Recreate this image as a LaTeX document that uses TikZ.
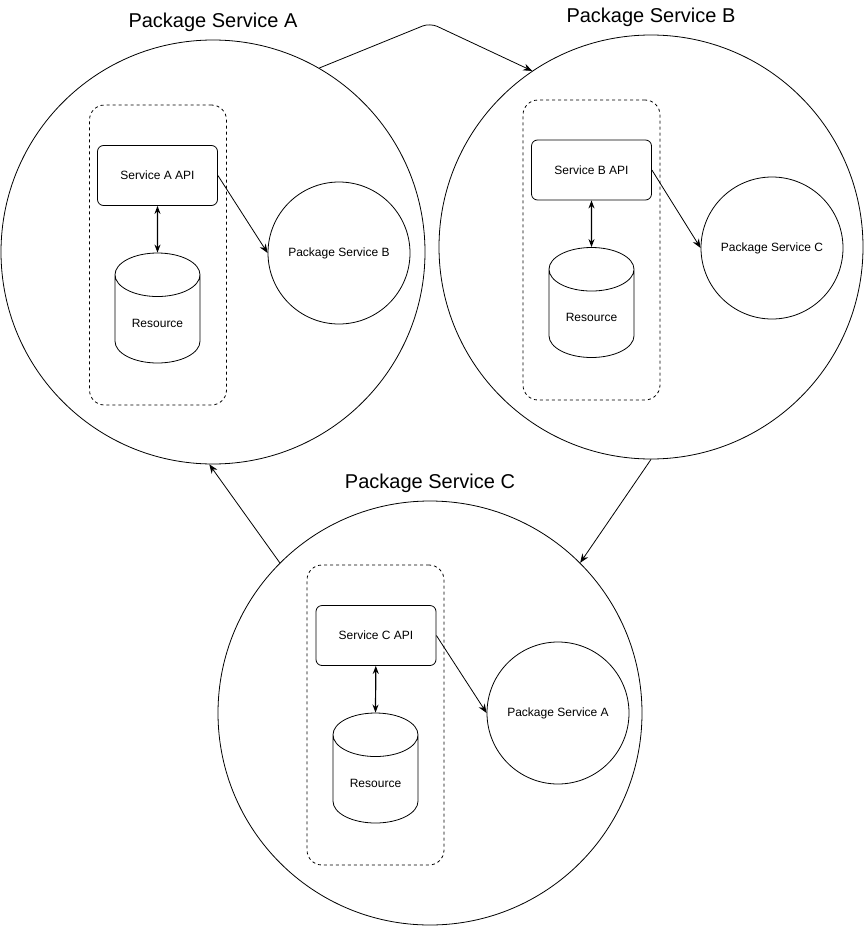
\documentclass[tikz,border=0pt]{standalone}
\usepackage{fontspec}
\setmainfont{Liberation Sans}
\usetikzlibrary{shapes.geometric,arrows.meta}

\begin{document}
\begin{tikzpicture}[x=1pt, y=-1pt,
bigcircle/.style={circle, draw, line width=0.8pt, minimum size=424pt, inner sep=0pt},
title/.style={font=\fontsize{20}{24}\selectfont, label distance=4pt},
smallcircle/.style={circle, draw, line width=0.8pt, minimum size=142pt, inner sep=0pt, font=\fontsize{12}{14}\selectfont},
apibox/.style={rectangle, rounded corners=6pt, draw, line width=0.8pt, minimum width=120pt, minimum height=60pt, font=\fontsize{12}{14}\selectfont},
resource/.style={cylinder, shape border rotate=90, anchor=shape center, draw, line width=0.8pt, minimum width=85pt, minimum height=110pt, aspect=0.75, font=\fontsize{12}{14}\selectfont},
group/.style={rectangle, rounded corners=15pt, draw, dash pattern=on 3pt off 3pt, line width=0.8pt, minimum width=137pt, minimum height=300pt},
flow/.style={-{Stealth[length=9pt,width=7pt]}, line width=0.8pt},
link/.style={{Stealth[length=8pt,width=6pt]}-{Stealth[length=8pt,width=6pt]}, line width=1.2pt}
]
    \useasboundingbox (0,0) rectangle (865,926);

    \node[bigcircle, label={[title]above:Package Service A}] (cA) at (213,252){};
    \node[bigcircle, label={[title]above:Package Service B}] (cB) at (651,247){};
    \node[bigcircle, label={[title]above:Package Service C}] (cC) at (430,713){};

    \node[group] (gA) at (158,255){};
    \node[apibox] (apiA) at (157.5,175.5){Service A API};
    \node[resource] (resA) at (157.5,308){Resource};
    \node[smallcircle] (svcB) at (339,253){Package Service B};

    \node[group] (gB) at (591.5,250){};
    \node[apibox] (apiB) at (591.5,170){Service B API};
    \node[resource] (resB) at (591.5,302.5){Resource};
    \node[smallcircle] (svcC) at (772,248){Package Service C};

    \node[group] (gC) at (375.5,715){};
    \node[apibox] (apiC) at (376,635.5){Service C API};
    \node[resource] (resC) at (375.5,768){Resource};
    \node[smallcircle] (svcA) at (558,713){Package Service A};

    \coordinate (apex) at (430,23);

    \draw[link] (apiA) -- (resA.north);
    \draw[link] (apiB) -- (resB.north);
    \draw[link] (apiC) -- (resC.north);

    \draw[flow] (apiA.east) -- (svcB.west);
    \draw[flow] (apiB.east) -- (svcC.west);
    \draw[flow] (apiC.east) -- (svcA.west);

    \draw[flow, rounded corners=8pt] (cA.60) -- (apex) -- (cB.124);
    \draw[flow] (cB.270) -- (cC.45);
    \draw[flow] (cC.135) -- (cA.269);
\end{tikzpicture}
\end{document}
